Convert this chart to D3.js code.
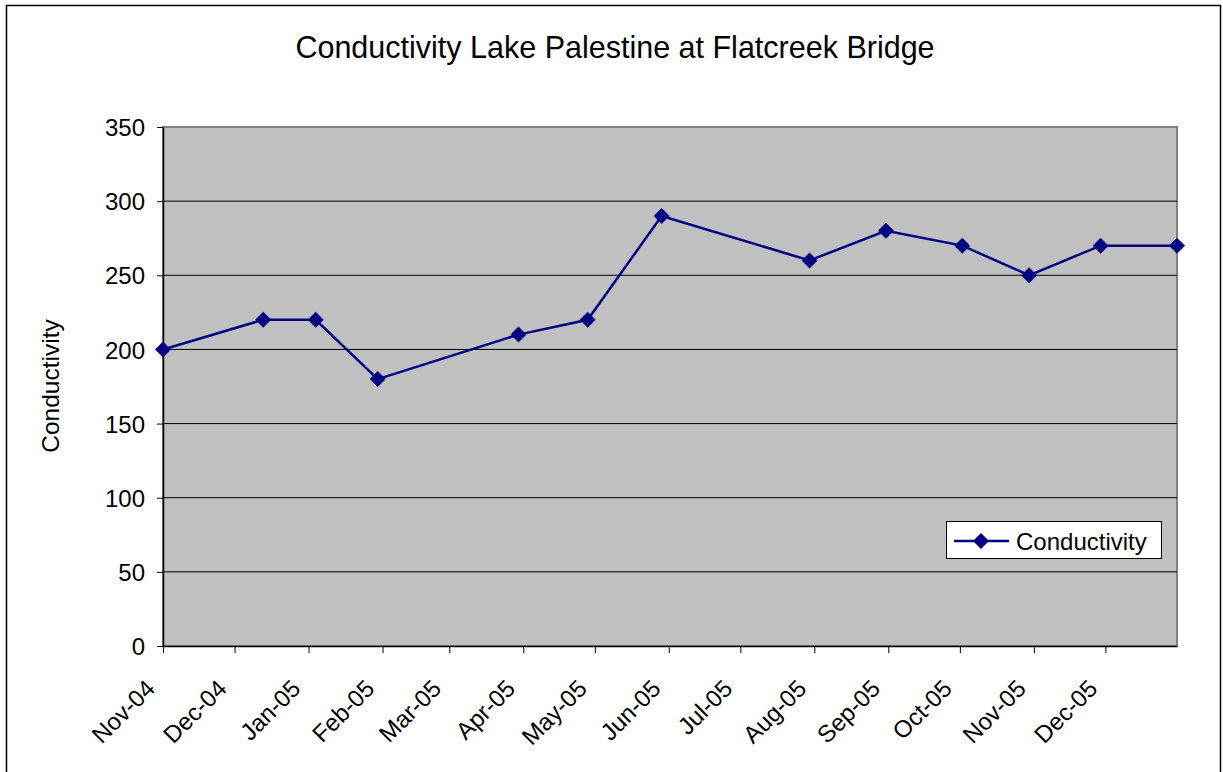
<!DOCTYPE html>
<html><head><meta charset="utf-8">
<script src="https://cdn.jsdelivr.net/npm/d3@7"></script>
<style>
body{margin:0;background:#fff;}
text{font-family:"Liberation Sans",Arial,sans-serif;fill:#000;}
</style></head>
<body><svg id="chart" width="1223" height="772"></svg>
<script>
const dates = ["2004-11-01","2004-12-13","2005-01-04","2005-01-30","2005-03-30","2005-04-28","2005-05-29","2005-07-30","2005-08-31","2005-10-02","2005-10-30","2005-11-29","2005-12-31"];
const conductivity = [200,220,220,180,210,220,290,260,280,270,250,270,270];
const yTicks = [0,50,100,150,200,250,300,350];
const seriesName = "Conductivity";
const titleText = "Conductivity Lake Palestine at Flatcreek Bridge";
const yTitle = "Conductivity";

const parse = d3.timeParse("%Y-%m-%d");
const data = dates.map((d,i)=>({date:parse(d), value:conductivity[i]}));

const svg = d3.select("#chart");
const L=163, R=1177, T=127, B=646;

svg.append("rect").attr("x",6.5).attr("y",5.5).attr("width",1214).attr("height",800)
  .attr("fill","#fff").attr("stroke","#000").attr("stroke-width",1.5);

const x = d3.scaleTime().domain(d3.extent(data,d=>d.date)).range([L,R]);
const y = d3.scaleLinear().domain([0,350]).range([B,T]);

svg.append("rect").attr("x",L).attr("y",T).attr("width",R-L).attr("height",B-T)
  .attr("fill","#c0c0c0").attr("stroke","#808080").attr("stroke-width",2);

// gridlines
svg.append("g").selectAll("line").data(yTicks.filter(v=>v>0&&v<350)).join("line")
  .attr("x1",L).attr("x2",R).attr("y1",d=>y(d)).attr("y2",d=>y(d))
  .attr("stroke","#000").attr("stroke-width",1);

// y axis
const yAxis = svg.append("g").attr("transform",`translate(${L},0)`)
  .call(d3.axisLeft(y).tickValues(yTicks).tickSize(6).tickPadding(12).tickSizeOuter(0));
yAxis.select(".domain").attr("stroke","#000").attr("stroke-width",1.5);
yAxis.selectAll(".tick line").attr("stroke","#000");
yAxis.selectAll("text").style("font-size","24px").attr("fill","#000").attr("dy","0.36em");

// x axis
const xAxis = svg.append("g").attr("transform",`translate(0,${B})`)
  .call(d3.axisBottom(x).ticks(d3.timeMonth.every(1)).tickFormat(d3.timeFormat("%b-%y")).tickSize(7).tickSizeOuter(0));
xAxis.select(".domain").attr("stroke","#000").attr("stroke-width",1.5);
xAxis.selectAll(".tick line").attr("stroke","#000");
xAxis.selectAll("text").style("font-size","24px").attr("fill","#000")
  .attr("text-anchor","end").attr("dy",0).attr("y",0)
  .attr("transform","translate(-7,44) rotate(-45)");

// line
svg.append("path").datum(data)
  .attr("fill","none").attr("stroke","#000080").attr("stroke-width",2.5)
  .attr("d",d3.line().x(d=>x(d.date)).y(d=>y(d.value)));

const diamond = d3.symbol().type(d3.symbolSquare).size(128);
svg.append("g").selectAll("path").data(data).join("path")
  .attr("d",diamond)
  .attr("transform",d=>`translate(${x(d.date)},${y(d.value)}) rotate(45)`)
  .attr("fill","#000080");

// title
svg.append("text").attr("x",615).attr("y",58).attr("text-anchor","middle")
  .style("font-size","30.5px").text(titleText);

// y title
svg.append("text").attr("transform","translate(58.5,386) rotate(-90)")
  .attr("text-anchor","middle").style("font-size","24.5px").text(yTitle);

// legend
const lg = svg.append("g");
lg.append("rect").attr("x",946.5).attr("y",521.5).attr("width",215).attr("height",37)
  .attr("fill","#fff").attr("stroke","#000").attr("stroke-width",1);
lg.append("line").attr("x1",954).attr("x2",1009).attr("y1",541).attr("y2",541)
  .attr("stroke","#000080").attr("stroke-width",2.5);
lg.append("path").attr("d",diamond).attr("transform","translate(981,541) rotate(45)").attr("fill","#000080");
lg.append("text").attr("x",1016).attr("y",549.5).style("font-size","24px").text(seriesName);
</script></body></html>
